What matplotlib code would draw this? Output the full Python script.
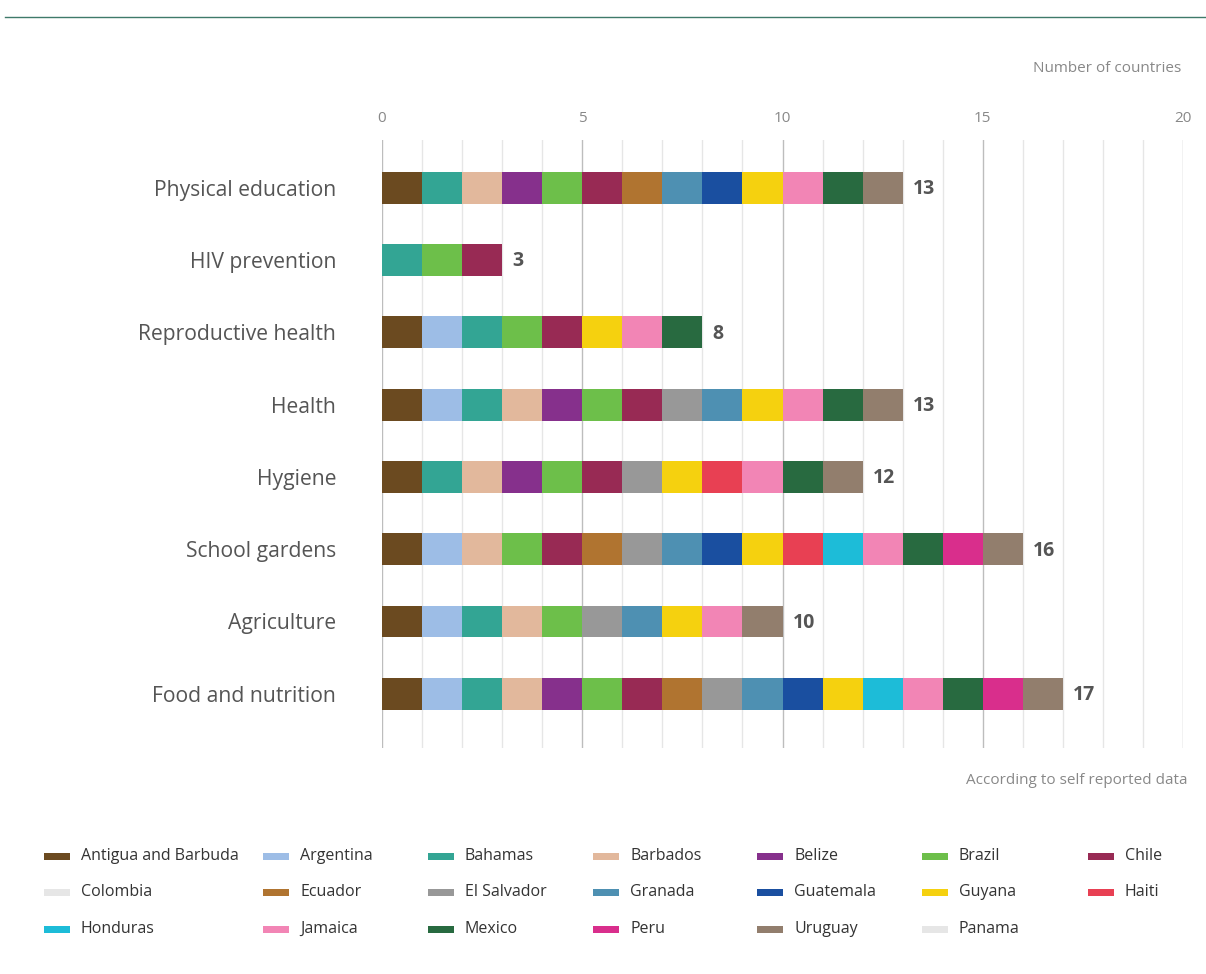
import matplotlib.pyplot as plt
from matplotlib.patches import Rectangle
from matplotlib.lines import Line2D

plt.rcParams["font.family"] = ["Open Sans", "DejaVu Sans"]

# Countries (legend order) and their colours
countries = [
    "Antigua and Barbuda", "Argentina", "Bahamas", "Barbados", "Belize", "Brazil", "Chile",
    "Colombia", "Ecuador", "El Salvador", "Granada", "Guatemala", "Guyana", "Haiti",
    "Honduras", "Jamaica", "Mexico", "Peru", "Uruguay", "Panama",
]
country_colors = [
    "#6b4a20", "#9dbde6", "#33a594", "#e2b89c", "#86308c", "#6dbf4a", "#982a54",
    "#e6e6e6", "#b07430", "#989898", "#4e90b2", "#1a4fa0", "#f5d10f", "#e84053",
    "#1dbcd8", "#f285b5", "#286a40", "#d92e8c", "#927e6d", "#e6e6e6",
]

# Topics (top to bottom) and the countries that reported each
topics = [
    "Physical education", "HIV prevention", "Reproductive health", "Health",
    "Hygiene", "School gardens", "Agriculture", "Food and nutrition",
]
physical_education = ["Antigua and Barbuda", "Bahamas", "Barbados", "Belize", "Brazil", "Chile",
                      "Ecuador", "Granada", "Guatemala", "Guyana", "Jamaica", "Mexico", "Uruguay"]
hiv_prevention = ["Bahamas", "Brazil", "Chile"]
reproductive_health = ["Antigua and Barbuda", "Argentina", "Bahamas", "Brazil", "Chile",
                       "Guyana", "Jamaica", "Mexico"]
health = ["Antigua and Barbuda", "Argentina", "Bahamas", "Barbados", "Belize", "Brazil", "Chile",
          "El Salvador", "Granada", "Guyana", "Jamaica", "Mexico", "Uruguay"]
hygiene = ["Antigua and Barbuda", "Bahamas", "Barbados", "Belize", "Brazil", "Chile",
           "El Salvador", "Guyana", "Haiti", "Jamaica", "Mexico", "Uruguay"]
school_gardens = ["Antigua and Barbuda", "Argentina", "Barbados", "Brazil", "Chile", "Ecuador",
                  "El Salvador", "Granada", "Guatemala", "Guyana", "Haiti", "Honduras",
                  "Jamaica", "Mexico", "Peru", "Uruguay"]
agriculture = ["Antigua and Barbuda", "Argentina", "Bahamas", "Barbados", "Brazil",
               "El Salvador", "Granada", "Guyana", "Jamaica", "Uruguay"]
food_nutrition = ["Antigua and Barbuda", "Argentina", "Bahamas", "Barbados", "Belize", "Brazil",
                  "Chile", "Ecuador", "El Salvador", "Granada", "Guatemala", "Guyana",
                  "Honduras", "Jamaica", "Mexico", "Peru", "Uruguay"]
topic_members = [physical_education, hiv_prevention, reproductive_health, health,
                 hygiene, school_gardens, agriculture, food_nutrition]

x_ticks = [0, 5, 10, 15, 20]

color_of = dict(zip(countries, country_colors))

W, H = 1206, 974
fig = plt.figure(figsize=(W / 100, H / 100), dpi=100)
ax = fig.add_axes([382 / W, 1 - 748 / H, (1183 - 382) / W, (748 - 140) / H])

# Grid: light lines each unit, darker ones on the labelled ticks
for v in range(0, 21):
    major = v in x_ticks
    ax.axvline(v, color="#bdbdbd" if major else "#e6e6e6", lw=1.0, zorder=0)

# Stacked unit segments
for i, members in enumerate(topic_members):
    for j, c in enumerate(members):
        ax.barh(i, 1, left=j, height=0.44, color=color_of[c], lw=0, zorder=2)
    ax.text(len(members) + 0.25, i + 0.02, str(len(members)), va="center", ha="left",
            fontsize=14, fontweight="bold", color="#555555")

ax.set_xlim(0, 20)
ax.set_ylim(7.75, -0.66)
ax.set_yticks(range(len(topics)))
ax.set_yticklabels(topics, fontsize=15.2, color="#555555")
ax.set_xticks(x_ticks)
ax.xaxis.tick_top()
ax.tick_params(axis="x", length=0, pad=10, labelsize=11, labelcolor="#888888")
ax.tick_params(axis="y", length=0, pad=33)
for s in ax.spines.values():
    s.set_visible(False)

# Header line and notes
fig.add_artist(Line2D([5 / W, 1], [1 - 17 / H] * 2, color="#3f7a6a", lw=1.0))
fig.text(1181 / W, 1 - 69 / H, "Number of countries", ha="right", va="center",
         fontsize=11, color="#888888")
fig.text(1187 / W, 1 - 781 / H, "According to self reported data", ha="right",
         va="center", fontsize=11, color="#888888")

# Legend: 7 columns x 3 rows
legend_cols = [44, 263, 428, 593, 757, 922, 1088]
for k, (name, col) in enumerate(zip(countries, country_colors)):
    r, cidx = divmod(k, 7)
    x0 = legend_cols[cidx]
    y0 = 856 + r * 36.5
    fig.add_artist(Rectangle((x0 / W, 1 - (y0 + 3.5) / H), 26 / W, 7 / H,
                             color=col, lw=0))
    fig.text((x0 + 37) / W, 1 - y0 / H, name, ha="left", va="center",
             fontsize=11.5, color="#333333")

fig.savefig("out.png", dpi=100)
